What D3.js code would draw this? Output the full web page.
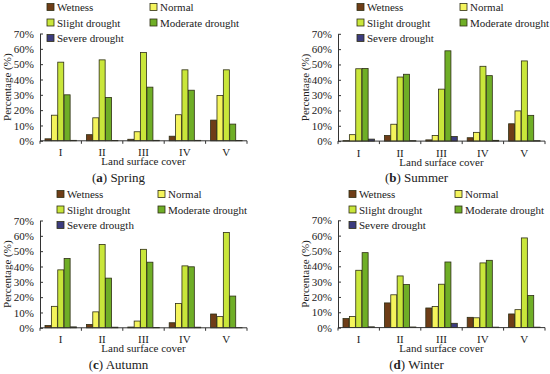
<!DOCTYPE html>
<html>
<head>
<meta charset="utf-8">
<script src="https://cdnjs.cloudflare.com/ajax/libs/d3/7.8.5/d3.min.js"></script>
<style>
  body { margin: 0; background: #fff; }
</style>
</head>
<body>
<svg id="chart" width="550" height="374"></svg>
<script>
// land surface cover classes and drought levels
var categories = ["I", "II", "III", "IV", "V"];
var seriesNames = ["Wetness", "Normal", "Slight drought", "Moderate drought", "Severe drought"];
var seriesColors = ["#6e3d17", "#f4f45c", "#c9e63a", "#6fae26", "#3c3c7e"];
var yTicks = [0, 0.1, 0.2, 0.3, 0.4, 0.5, 0.6, 0.7];

// values per class: [wetness, normal, slight, moderate, severe] in %
var springData = [
    [1.3, 16.7, 51.3, 30.0, 0.3],
    [4.0, 15.0, 52.8, 28.3, 0.2],
    [1.0, 5.9, 57.6, 35.0, 0.3],
    [3.0, 17.0, 46.3, 33.0, 0.3],
    [13.5, 29.6, 46.3, 10.9, 0.2]
];
var summerData = [
    [0.3, 4.2, 47.2, 47.4, 1.3],
    [3.7, 11.0, 41.8, 43.6, 0.3],
    [0.8, 3.7, 33.9, 58.9, 3.0],
    [2.2, 5.7, 48.8, 42.7, 0.5],
    [11.3, 19.7, 52.3, 16.8, 0.3]
];
var autumnData = [
    [1.5, 14.0, 37.8, 45.2, 0.6],
    [2.2, 10.4, 54.4, 32.4, 0.4],
    [0.5, 4.4, 51.2, 42.8, 0.2],
    [3.3, 15.9, 40.4, 39.8, 0.4],
    [9.0, 7.3, 62.2, 20.7, 0.1]
];
var winterData = [
    [5.9, 7.3, 37.4, 48.9, 0.5],
    [16.1, 21.4, 33.7, 28.1, 0.4],
    [12.8, 13.7, 28.3, 42.8, 2.8],
    [6.7, 6.4, 42.2, 43.9, 0.3],
    [8.9, 11.7, 58.5, 20.9, 0.3]
];

var panels = [
    { tag: "a", season: "Spring", data: springData, left: 40, top: 33.5, lgX: [47, 150], lgY: 7, severe: "Severe drought" },
    { tag: "b", season: "Summer", data: summerData, left: 338, top: 33.8, lgX: [357, 460], lgY: 7, severe: "Severe drought" },
    { tag: "c", season: "Autumn", data: autumnData, left: 40, top: 220.5, lgX: [57, 158], lgY: 194, severe: "Severe drougth" },
    { tag: "d", season: "Winter", data: winterData, left: 338, top: 220.3, lgX: [349, 455], lgY: 194, severe: "Severe drought" }
];

var FONT = "'Liberation Serif', 'DejaVu Serif', serif";
var svg = d3.select("#chart");
var plotW = 207, plotH = 107.3;

function txt(sel, size) {
    return sel.style("font-family", FONT).style("font-size", size).attr("fill", "#222");
}

panels.forEach(function(p) {
    var g = svg.append("g");
    var bottom = p.top + plotH;

    var x = d3.scaleBand().domain(categories).range([p.left, p.left + plotW]);
    var xInner = d3.scaleBand().domain(seriesNames).range([5, 36.5]).paddingInner(0.06);
    var y = d3.scaleLinear().domain([0, 0.7]).range([bottom, p.top]);

    // bars
    var groups = g.selectAll("g.grp")
        .data(p.data)
        .enter().append("g")
        .attr("class", "grp")
        .attr("transform", function(d, i) { return "translate(" + x(categories[i]) + ",0)"; });
    groups.selectAll("rect")
        .data(function(d) { return d; })
        .enter().append("rect")
        .attr("x", function(d, j) { return xInner(seriesNames[j]); })
        .attr("width", xInner.bandwidth())
        .attr("y", function(d) { return y(d / 100); })
        .attr("height", function(d) { return bottom - y(d / 100); })
        .attr("fill", function(d, j) { return seriesColors[j]; })
        .attr("stroke", "#2e2e14")
        .attr("stroke-width", 0.8);

    // y axis
    var yAxis = d3.axisLeft(y)
        .tickValues(yTicks)
        .tickFormat(d3.format(".0%"))
        .tickSizeInner(-3)
        .tickSizeOuter(0)
        .tickPadding(6);
    var ya = g.append("g")
        .attr("transform", "translate(" + p.left + ",0)")
        .call(yAxis);
    ya.select(".domain").attr("stroke", "#333");
    ya.selectAll(".tick line").attr("stroke", "#333");
    txt(ya.selectAll("text"), "11px");

    // x axis: line with ticks at class boundaries
    var bounds = categories.map(function(c) { return x(c); }).concat([p.left + plotW]);
    g.append("line")
        .attr("x1", p.left).attr("x2", p.left + plotW)
        .attr("y1", bottom).attr("y2", bottom)
        .attr("stroke", "#333");
    g.selectAll("line.xt")
        .data(bounds)
        .enter().append("line")
        .attr("class", "xt")
        .attr("x1", function(d) { return d; }).attr("x2", function(d) { return d; })
        .attr("y1", bottom).attr("y2", bottom + 3)
        .attr("stroke", "#333");
    txt(g.selectAll("text.xl")
        .data(categories)
        .enter().append("text")
        .attr("class", "xl")
        .attr("x", function(d) { return x(d) + x.bandwidth() / 2; })
        .attr("y", bottom + 15.5)
        .attr("text-anchor", "middle")
        .text(function(d) { return d; }), "11px");

    txt(g.append("text")
        .attr("x", p.left + plotW / 2)
        .attr("y", bottom + 24.5)
        .attr("text-anchor", "middle")
        .text("Land surface cover"), "11px");

    txt(g.append("text")
        .attr("transform", "translate(" + (p.left - 29) + "," + (p.top + plotH / 2) + ") rotate(-90)")
        .attr("text-anchor", "middle")
        .text("Percentage (%)"), "11px");

    // caption
    var cap = txt(g.append("text")
        .attr("x", p.left + plotW / 2 - 25)
        .attr("y", bottom + 41)
        .attr("text-anchor", "middle"), "13px");
    cap.append("tspan").text("(");
    cap.append("tspan").style("font-weight", "bold").text(p.tag);
    cap.append("tspan").text(") " + p.season);

    // legend
    var labels = seriesNames.slice(0, 4).concat([p.severe]);
    var lg = g.selectAll("g.lg")
        .data(labels)
        .enter().append("g")
        .attr("class", "lg")
        .attr("transform", function(d, i) {
            return "translate(" + p.lgX[i % 2] + "," + (p.lgY + Math.floor(i / 2) * 15.5) + ")";
        });
    lg.append("rect")
        .attr("x", 0).attr("y", -3.5)
        .attr("width", 7).attr("height", 7)
        .attr("fill", function(d, i) { return seriesColors[i]; })
        .attr("stroke", "#2e2e14")
        .attr("stroke-width", 0.8);
    txt(lg.append("text")
        .attr("x", 10).attr("y", 4)
        .text(function(d) { return d; }), "11px");
});
</script>
</body>
</html>
